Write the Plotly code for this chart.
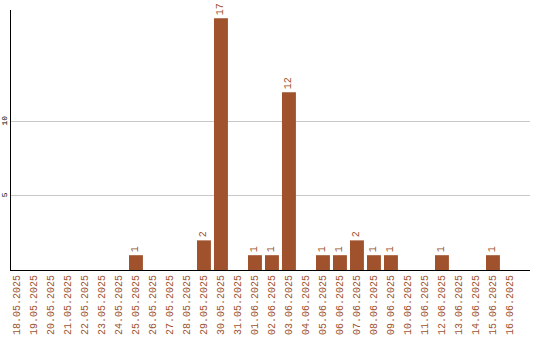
import plotly.graph_objects as go

dates = ["18.05.2025", "19.05.2025", "20.05.2025", "21.05.2025", "22.05.2025",
         "23.05.2025", "24.05.2025", "25.05.2025", "26.05.2025", "27.05.2025",
         "28.05.2025", "29.05.2025", "30.05.2025", "31.05.2025", "01.06.2025",
         "02.06.2025", "03.06.2025", "04.06.2025", "05.06.2025", "06.06.2025",
         "07.06.2025", "08.06.2025", "09.06.2025", "10.06.2025", "11.06.2025",
         "12.06.2025", "13.06.2025", "14.06.2025", "15.06.2025", "16.06.2025"]
counts = [0, 0, 0, 0, 0, 0, 0, 1, 0, 0, 0, 2, 17, 0, 1,
          1, 12, 0, 1, 1, 2, 1, 1, 0, 0, 1, 0, 0, 1, 0]
y_ticks = [5, 10]

color = "#a0522d"
font = "Liberation Mono"

labels = [str(v) if v > 0 else "" for v in counts]

fig = go.Figure(go.Bar(
    x=dates, y=counts, marker=dict(color=color, line=dict(width=0)),
    text=labels, textposition="outside", textangle=-90,
    textfont=dict(family=font, size=10, color=color),
    cliponaxis=False,
))

fig.update_layout(
    width=540, height=340,
    margin=dict(l=11, r=10, t=10, b=70),
    plot_bgcolor="white", paper_bgcolor="white",
    bargap=0.18, showlegend=False,
    font=dict(family=font),
)
fig.update_xaxes(
    type="category", tickangle=-90, showgrid=False, automargin=False,
    range=[-0.35, 30.18],
    tickfont=dict(family=font, size=10, color=color),
    showline=True, linecolor="black", linewidth=1,
    ticks="", ticklen=0,
)
fig.update_yaxes(
    range=[0, 17.55], tickvals=y_ticks, tickangle=-90, automargin=False,
    tickfont=dict(family=font, size=8, color="black"),
    showgrid=True, gridcolor="#c8c8c8", gridwidth=1,
    showline=True, linecolor="black", linewidth=1,
    zeroline=False, ticks="", ticklen=0,
)

fig.write_html("out.html")
